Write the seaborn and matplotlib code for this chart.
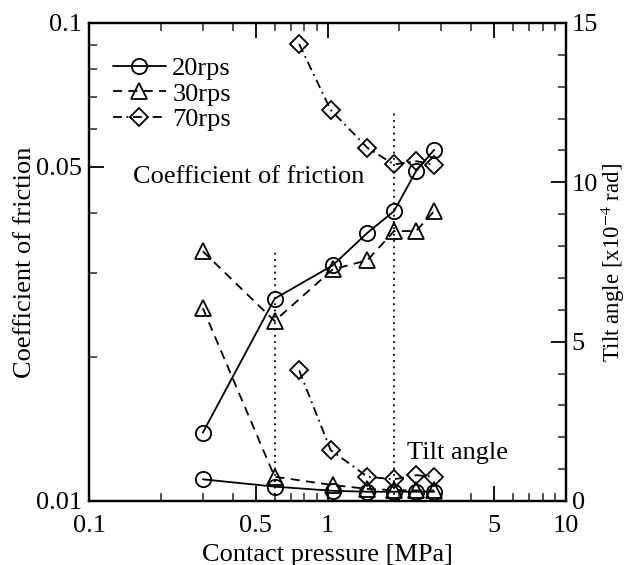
import matplotlib
matplotlib.use("Agg")
import matplotlib.pyplot as plt
import matplotlib.ticker as mticker
import seaborn as sns
import numpy as np

sns.set_theme(style="white")
plt.rcParams['font.family'] = ['Liberation Serif', 'DejaVu Serif']
plt.rcParams['mathtext.fontset'] = 'stix'

# ---- data ----
pressure = [0.3, 0.6, 1.05, 1.47, 1.9, 2.35, 2.8]
pressure_70 = [0.76, 1.03, 1.47, 1.9, 2.35, 2.8]

friction_20 = [0.0139, 0.0265, 0.0311, 0.0364, 0.0404, 0.0490, 0.0543]
friction_30 = [0.0333, 0.0238, 0.0305, 0.0319, 0.0367, 0.0367, 0.0404]
friction_70 = [0.0904, 0.0658, 0.0548, 0.0506, 0.0514, 0.0505]

tilt_20 = [0.68, 0.45, 0.32, 0.29, 0.29, 0.29, 0.29]
tilt_30 = [6.05, 0.76, 0.50, 0.38, 0.34, 0.33, 0.33]
tilt_70 = [4.10, 1.60, 0.76, 0.68, 0.81, 0.76]

ref_x = [0.6, 1.9]
ref_top = [7.87, 12.17]

labels = ["20rps", "30rps", "70rps"]
xtick_vals = [0.1, 0.5, 1, 5, 10]
xtick_labels = ["0.1", "0.5", "1", "5", "10"]
ytick_vals = [0.01, 0.05, 0.1]
ytick_labels = ["0.01", "0.05", "0.1"]
y2tick_vals = [0, 5, 10, 15]

# ---- figure ----
fig = plt.figure(figsize=(6.29, 5.65), dpi=100)
fig.subplots_adjust(left=0.1415, right=0.9, bottom=0.1133, top=0.9593)
ax = fig.add_subplot(111)
ax.set_facecolor("white")
ax2 = ax.twinx()

lw = 1.3
styles = {
    "20rps": dict(marker="o", linestyle="-", markersize=11),
    "30rps": dict(marker="^", linestyle=(0, (5, 3.5)), markersize=11),
    "70rps": dict(marker="D", linestyle=(0, (5, 2.5, 1, 2.5)), markersize=9.5),
}

fr = {"20rps": (pressure, friction_20), "30rps": (pressure, friction_30),
      "70rps": (pressure_70, friction_70)}
tl = {"20rps": (pressure, tilt_20), "30rps": (pressure, tilt_30),
      "70rps": (pressure_70, tilt_70)}

for lab in labels:
    st = styles[lab]
    x, y = fr[lab]
    sns.lineplot(x=x, y=y, ax=ax, color="black", linewidth=lw, sort=False,
                 estimator=None, marker=st["marker"], markersize=st["markersize"],
                 markerfacecolor="none", markeredgecolor="black", markeredgewidth=1.3,
                 linestyle=st["linestyle"], label=lab)
    x, y = tl[lab]
    sns.lineplot(x=x, y=y, ax=ax2, color="black", linewidth=lw, sort=False,
                 estimator=None, marker=st["marker"], markersize=st["markersize"],
                 markerfacecolor="none", markeredgecolor="black", markeredgewidth=1.3,
                 linestyle=st["linestyle"], legend=False)

for xv, top in zip(ref_x, ref_top):
    sns.lineplot(x=[xv, xv], y=[0, top], ax=ax2, color="black", linewidth=1.3,
                 linestyle=(0, (1, 2.5)), legend=False, sort=False, estimator=None)

# axes scales
ax.set_xscale("log")
ax.set_yscale("log")
ax.set_xlim(0.1, 10)
ax.set_ylim(0.01, 0.1)
ax2.set_ylim(0, 15)

ax.set_xticks(xtick_vals)
ax.set_xticklabels(xtick_labels)
ax.xaxis.set_minor_locator(mticker.LogLocator(base=10, subs=np.arange(2, 10)))
ax.xaxis.set_minor_formatter(mticker.NullFormatter())
ax.set_yticks(ytick_vals)
ax.set_yticklabels(ytick_labels)
ax.yaxis.set_minor_locator(mticker.FixedLocator([0.02, 0.03, 0.04, 0.06, 0.07, 0.08, 0.09]))
ax.yaxis.set_minor_formatter(mticker.NullFormatter())
ax2.set_yticks(y2tick_vals)
ax2.yaxis.set_minor_locator(mticker.MultipleLocator(1))

fs = 19
ax.tick_params(axis="both", which="major", direction="in", length=11, width=1.3,
               labelsize=fs, colors="black")
ax.tick_params(axis="both", which="minor", direction="in", length=6, width=1.1)
ax.tick_params(axis="x", which="both", top=True, bottom=True)
ax.tick_params(axis="x", which="major", pad=10)
ax.tick_params(axis="y", which="both", left=True, right=False)
ax.tick_params(axis="y", which="major", pad=5)
ax2.tick_params(axis="y", which="major", direction="in", length=11, width=1.3,
                labelsize=fs, colors="black", pad=4)
ax2.tick_params(axis="y", which="minor", direction="in", length=6, width=1.1)

for a in (ax, ax2):
    for s in a.spines.values():
        s.set_linewidth(1.6)
        s.set_color("black")
        s.set_visible(True)

ax.set_xlabel("Contact pressure [MPa]", fontsize=fs, color="black")
ax.set_ylabel("Coefficient of friction", fontsize=fs, color="black")
ax2.set_ylabel("Tilt angle [x10$^{-4}$ rad]", fontsize=16.5, color="black")
ax.xaxis.set_label_coords(0.5, -0.112)
ax.yaxis.set_label_coords(-0.135, 0.5)
ax2.yaxis.set_label_coords(1.099, 0.5)
ax.xaxis.label.set_va("center")
ax.yaxis.label.set_va("center")
ax2.yaxis.label.set_va("center")

ax.text(0.092, 0.678, "Coefficient of friction", transform=ax.transAxes,
        fontsize=fs, va="center", ha="left", color="black")
ax.text(0.667, 0.100, "Tilt angle", transform=ax.transAxes,
        fontsize=fs, va="center", ha="left", color="black")

leg = ax.legend(loc="upper left", bbox_to_anchor=(0.05, 0.929), frameon=False,
                fontsize=fs, handlelength=2.0, handletextpad=0.25, labelspacing=0.07,
                borderpad=0, borderaxespad=0)
for t in leg.get_texts():
    t.set_color("black")

fig.savefig("out.png", dpi=100, facecolor="white")
